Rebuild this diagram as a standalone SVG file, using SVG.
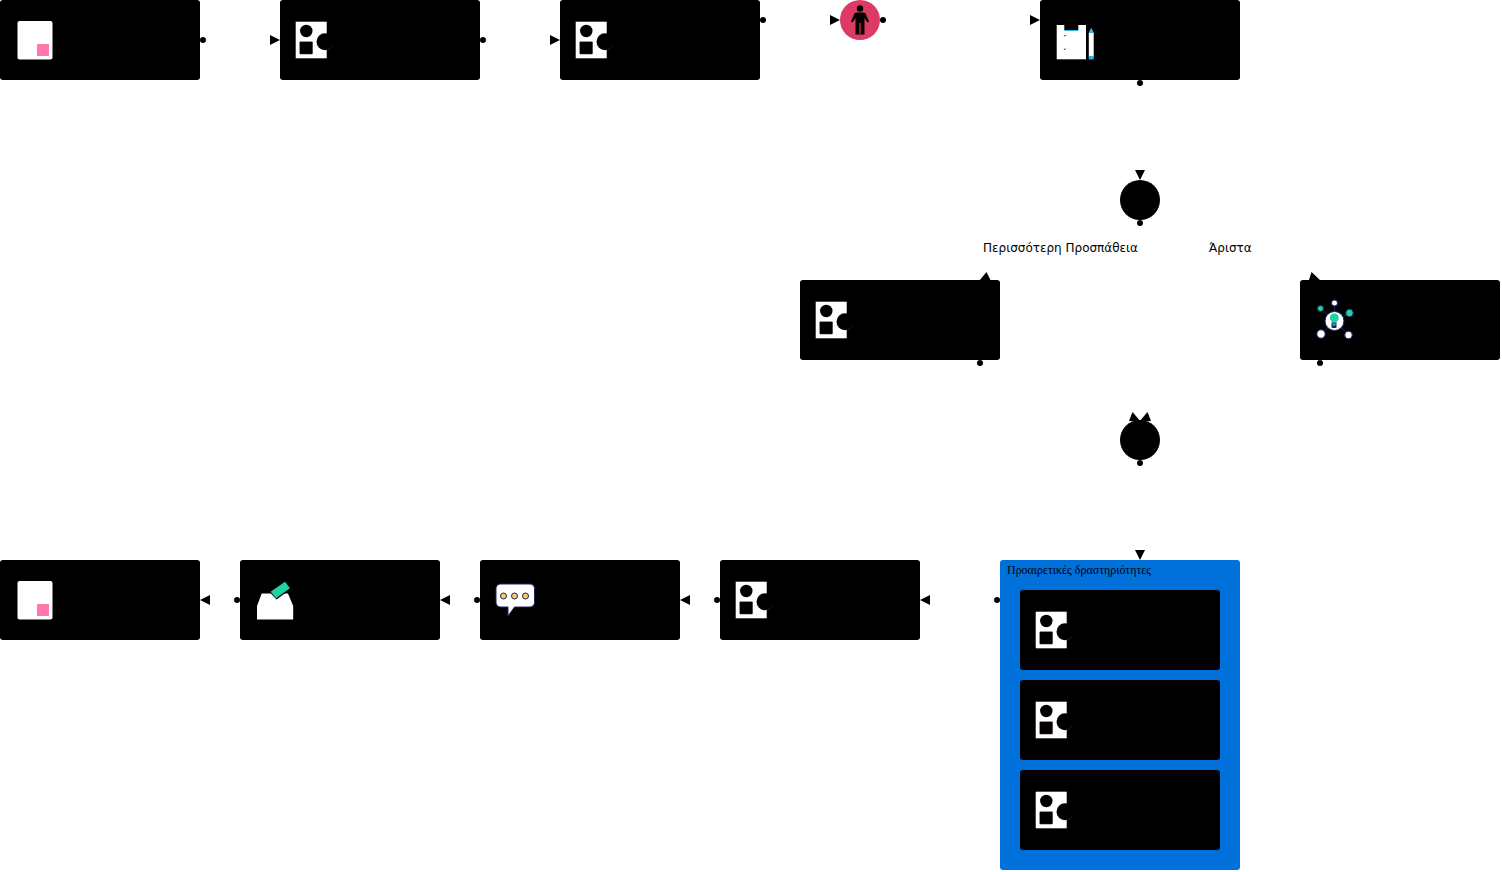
<svg xmlns="http://www.w3.org/2000/svg" xmlns:xlink="http://www.w3.org/1999/xlink" width="1502" height="872" viewBox="0 0 1502 872">
<style>
.box{fill:#000}
.dot{fill:#000}
.arrow{fill:#000}
.label{font-family:"DejaVu Sans","Noto Sans",sans-serif;font-size:12px;fill:#000}
.title{font-family:"Liberation Serif",serif;font-size:12px;fill:#000}
</style>
<defs>
<g id="doc"><rect x="17.500" y="21" width="35" height="38.500" rx="2" fill="#fff"/><rect x="37" y="44" width="12" height="12" rx="1" fill="#ff77ae"/></g>
<g id="shapes"><rect x="15.700" y="21.700" width="31" height="36.600" fill="#fff"/><circle cx="26.300" cy="31" r="6.200" fill="#000"/><rect x="19.500" y="41.500" width="13.300" height="12.800" rx="1" fill="#000" stroke="#e8b0c8" stroke-width="0.300"/><circle cx="45" cy="41.700" r="8.500" fill="#000"/><path d="M52.500 45.500a8.500 8.500 0 0 1-5 4.500" fill="none" stroke="#6a2040" stroke-width="0.500"/></g>
</defs>
<g id="connectors">
<circle class="dot" cx="203" cy="40" r="3"/><polygon class="arrow" points="270,35 280,40 270,45"/>
<circle class="dot" cx="483" cy="40" r="3"/><polygon class="arrow" points="550,35 560,40 550,45"/>
<circle class="dot" cx="763" cy="20" r="3"/><polygon class="arrow" points="830,15 840,20 830,25"/>
<circle class="dot" cx="883" cy="20" r="3"/><polygon class="arrow" points="1030,15 1040,20 1030,25"/>
<circle class="dot" cx="1140" cy="83" r="3"/><polygon class="arrow" points="1135,170 1145,170 1140,180"/>
<circle class="dot" cx="1140" cy="223" r="3"/><polygon class="arrow" points="986.500,272 979,281 992,283"/><polygon class="arrow" points="1311.500,272 1321,281 1308,283"/>
<circle class="dot" cx="980" cy="363" r="3"/><polygon class="arrow" points="1132.500,412 1129,421 1141,422"/>
<circle class="dot" cx="1320" cy="363" r="3"/><polygon class="arrow" points="1147.500,412 1151,421 1139,422"/>
<circle class="dot" cx="1140" cy="463" r="3"/><polygon class="arrow" points="1135,550 1145,550 1140,560"/>
<circle class="dot" cx="997" cy="600" r="3"/><polygon class="arrow" points="930,595 920,600 930,605"/>
<circle class="dot" cx="717" cy="600" r="3"/><polygon class="arrow" points="690,595 680,600 690,605"/>
<circle class="dot" cx="477" cy="600" r="3"/><polygon class="arrow" points="450,595 440,600 450,605"/>
<circle class="dot" cx="237" cy="600" r="3"/><polygon class="arrow" points="210,595 200,600 210,605"/>
</g>
<g id="n1"><rect class="box" x="0" y="0" width="200" height="80" rx="3"/><use xlink:href="#doc" href="#doc"/></g>
<g id="n2" transform="translate(280 0)"><rect class="box" width="200" height="80" rx="3"/><use xlink:href="#shapes" href="#shapes"/></g>
<g id="n3" transform="translate(560 0)"><rect class="box" width="200" height="80" rx="3"/><use xlink:href="#shapes" href="#shapes"/></g>
<g id="n4"><circle cx="860" cy="20" r="20" fill="#dd3a65"/><circle cx="860" cy="8.500" r="3.200" fill="#000"/><path d="M856 12.500h8l1.500 1 3.500 8-1.500 1-3-4.500v16.500h-9v-16.500l-3 4.500-1.500-1 3.500-8z" fill="#000"/><rect x="859.300" y="23" width="1.400" height="11" fill="#d8243c"/></g>
<g id="n5"><rect class="box" x="1040" y="0" width="200" height="80" rx="3"/><rect x="1056.700" y="25" width="29.300" height="34.300" fill="#fff"/><rect x="1064.300" y="22" width="14" height="8" fill="#000"/><rect x="1064.300" y="30" width="14" height="1" fill="#29b6e8"/><path d="M1063.500 35.500l3-.5-2 1.500zM1063.500 49l3-.5-2 1.500z" fill="#222"/><path d="M1088.800 57v-24l2.500-4.700 2.400 4.700v24z" fill="#fff"/><path d="M1088.800 33l2.500-4.700 2.400 4.700zM1088.800 56h4.900v3.500h-4.900z" fill="#29b6e8"/></g>
<g id="n6"><circle cx="1140" cy="200" r="20" fill="#000"/></g>
<text class="label" x="983" y="252">Περισσότερη Προσπάθεια</text>
<text class="label" x="1209" y="252">Άριστα</text>
<g id="n7" transform="translate(800 280)"><rect class="box" width="200" height="80" rx="3"/><use xlink:href="#shapes" href="#shapes"/></g>
<g id="n8"><rect class="box" x="1300" y="280" width="200" height="80" rx="3"/><path d="M1334.500 321V303M1334.500 321L1320.500 308.500M1334.500 321L1349.500 313M1334.500 321L1321 334M1334.500 321L1348.500 335" stroke="#1a2660" stroke-width="1"/><g stroke="#1a2660" stroke-width="1"><circle cx="1334.500" cy="321" r="9.500" fill="#fff"/><circle cx="1334.500" cy="303" r="3" fill="#fff"/><circle cx="1320.500" cy="308.500" r="3" fill="#1fd1a5"/><circle cx="1349.500" cy="313" r="3.800" fill="#1fd1a5"/><circle cx="1321" cy="334" r="4.200" fill="#fff"/><circle cx="1348.500" cy="335" r="3.800" fill="#fff"/></g><path d="M1334.300 313.500a4.500 4.500 0 0 1 4.500 4.500c0 2-1.700 2.800-2 4.500h-5c-.3-1.700-2-2.500-2-4.500a4.500 4.500 0 0 1 4.500-4.500z" fill="#1fd1a5"/><rect x="1331.500" y="322.500" width="5" height="5.500" rx="1" fill="#1a2660"/><rect x="1332.500" y="323.500" width="3" height="2" fill="#29b6e8"/></g>
<g id="n9"><circle cx="1140" cy="440" r="20" fill="#000"/></g>
<g id="n10"><rect x="1000" y="560" width="240" height="310" rx="3" fill="#0070da"/><text class="title" x="1007" y="574" textLength="144">Προαιρετικές δραστηριότητες</text></g>
<g id="n11" transform="translate(1020 590)"><rect class="box" width="200" height="80" rx="3"/><use xlink:href="#shapes" href="#shapes"/></g>
<g id="n12" transform="translate(1020 680)"><rect class="box" width="200" height="80" rx="3"/><use xlink:href="#shapes" href="#shapes"/></g>
<g id="n13" transform="translate(1020 770)"><rect class="box" width="200" height="80" rx="3"/><use xlink:href="#shapes" href="#shapes"/></g>
<g id="n14" transform="translate(720 560)"><rect class="box" width="200" height="80" rx="3"/><use xlink:href="#shapes" href="#shapes"/></g>
<g id="n15"><rect class="box" x="480" y="560" width="200" height="80" rx="3"/><path d="M500.500 584h29.500a4.500 4.500 0 0 1 4.500 4.500v14a4.500 4.500 0 0 1-4.500 4.500h-15.500l-6.500 9v-9h-7.500a4.500 4.500 0 0 1-4.500-4.500v-14a4.500 4.500 0 0 1 4.500-4.500z" fill="#fff" stroke="#1a2660" stroke-width="1"/><g fill="#ffc95c" stroke="#1a2660"><circle cx="503.500" cy="596" r="3"/><circle cx="514.500" cy="596" r="3"/><circle cx="525.500" cy="596" r="3"/></g></g>
<g id="n16"><rect class="box" x="240" y="560" width="200" height="80" rx="3"/><path d="M257 619.500v-13.500l4.700-12.500h26.300l5.200 12.500v13.500z" fill="#fff"/><path d="M269 591.500l16-11.500 6.500 8.500-15 11z" fill="#000"/><path d="M270.700 591.700l14.300-10 5 6.600-14 10z" fill="#1fd1a5"/></g>
<g id="n17"><rect class="box" x="0" y="560" width="200" height="80" rx="3"/><g transform="translate(0 560)"><use xlink:href="#doc" href="#doc"/></g></g>
</svg>
